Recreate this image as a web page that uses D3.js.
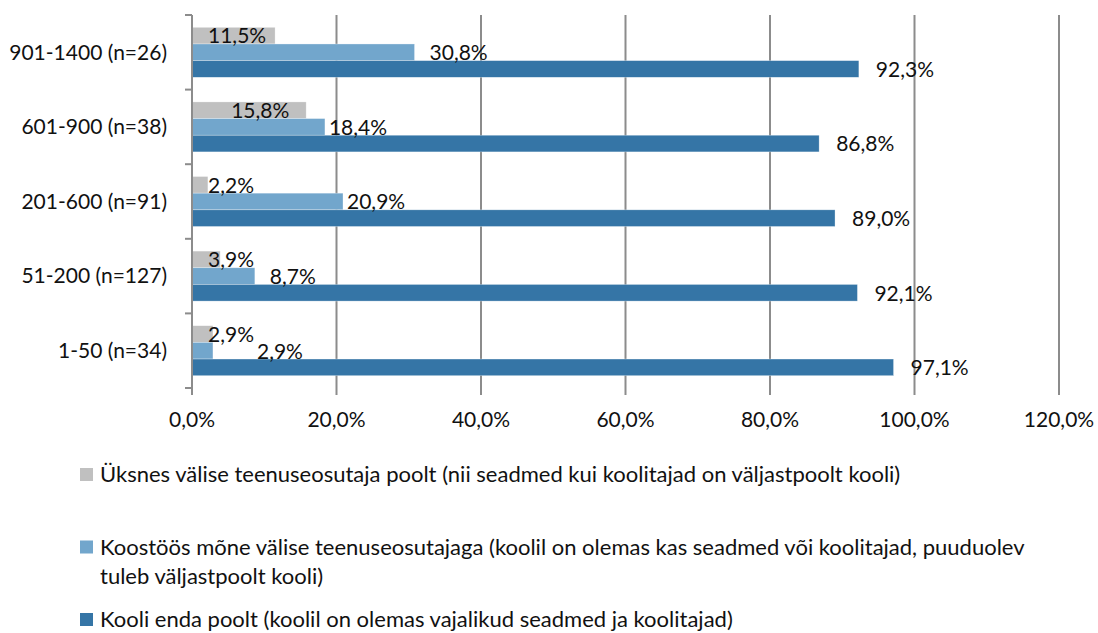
<!DOCTYPE html>
<html>
<head>
<meta charset="utf-8">
<script src="https://cdn.jsdelivr.net/npm/d3@7"></script>
<style>
  body { margin: 0; background: #fff; }
  svg text { font-family: Lato, "Noto Sans", sans-serif; fill: #111; }
</style>
</head>
<body>
<div id="chart"></div>
<script>
// categories, top to bottom
const categories = ['901-1400 (n=26)', '601-900 (n=38)', '201-600 (n=91)', '51-200 (n=127)', '1-50 (n=34)'];

// series values (%), same order as categories
const onlyExternal = [11.5, 15.8, 2.2, 3.9, 2.9];
const cooperation = [30.8, 18.4, 20.9, 8.7, 2.9];
const schoolItself = [92.3, 86.8, 89.0, 92.1, 97.1];

const seriesNames = [
  'Üksnes välise teenuseosutaja poolt (nii seadmed kui koolitajad on väljastpoolt kooli)',
  'Koostöös mõne välise teenuseosutajaga (koolil on olemas kas seadmed või koolitajad, puuduolev tuleb väljastpoolt kooli)',
  'Kooli enda poolt (koolil on olemas vajalikud seadmed ja koolitajad)'
];
const seriesColors = ['#c0c0c0', '#72a6cc', '#3575a6'];

const xTicks = [0, 20, 40, 60, 80, 100, 120];

const series = [onlyExternal, cooperation, schoolItself];

const width = 1098, height = 633;
const margin = { top: 15, left: 192, right: 39, bottom: 245 };
const plotW = width - margin.left - margin.right;
const plotH = height - margin.top - margin.bottom;

const fmt = v => v.toFixed(1).replace('.', ',') + '%';

const svg = d3.select('#chart').append('svg')
    .attr('width', width)
    .attr('height', height);

const x = d3.scaleLinear().domain([0, 120]).range([0, plotW]);
const y = d3.scaleBand().domain(categories).range([0, plotH]).paddingInner(0.33).paddingOuter(0.165);
const ySub = d3.scaleBand().domain([0, 1, 2]).range([0, y.bandwidth()]);

const g = svg.append('g')
    .attr('transform', `translate(${margin.left},${margin.top})`);

// vertical gridlines (also act as bottom ticks)
g.selectAll('.grid')
  .data(xTicks.slice(1))
  .join('line')
    .attr('class', 'grid')
    .attr('x1', d => x(d)).attr('x2', d => x(d))
    .attr('y1', 0).attr('y2', plotH + 7)
    .attr('stroke', '#8c8c8c')
    .attr('stroke-width', 2);

// bottom tick labels
g.selectAll('.xlab')
  .data(xTicks)
  .join('text')
    .attr('class', 'xlab')
    .attr('x', d => x(d))
    .attr('y', plotH + 39)
    .attr('text-anchor', 'middle')
    .style('font-size', '21px')
    .text(d => fmt(d));

// bars
const groups = g.selectAll('.cat')
  .data(categories)
  .join('g')
    .attr('class', 'cat')
    .attr('transform', d => `translate(0,${y(d)})`);

// label x rule per series
const labelX = [
  v => Math.max(16, x(v) - 75),
  v => x(v) + (v < 10 || v > 30 ? 15 : 4),
  v => x(v) + 17
];

series.forEach((vals, si) => {
  groups.append('rect')
      .attr('x', 0)
      .attr('y', ySub(si))
      .attr('width', (d, i) => x(vals[i]))
      .attr('height', ySub.bandwidth())
      .attr('fill', seriesColors[si])
      .attr('stroke', '#fff')
      .attr('stroke-opacity', 0.5)
      .attr('stroke-width', 0.6);
});

const labels = series.map((vals, si) =>
  groups.append('text')
      .attr('class', 'val s' + si)
      .attr('x', (d, i) => labelX[si](vals[i]))
      .attr('y', ySub(si) + ySub.bandwidth() - 0.5)
      .style('font-size', '21px')
      .text((d, i) => fmt(vals[i]))
);

// nudge a middle label right when it runs into the label above it
labels[1].each(function(d, i) {
  const above = labels[0].nodes()[i];
  const aboveEnd = +above.getAttribute('x') + above.getComputedTextLength();
  const cur = +this.getAttribute('x');
  if (cur < aboveEnd + 3) d3.select(this).attr('x', aboveEnd + 3);
});

// left axis
g.append('line')
    .attr('x1', 0).attr('x2', 0)
    .attr('y1', 0).attr('y2', plotH + 7)
    .attr('stroke', '#8c8c8c')
    .attr('stroke-width', 2);

const bounds = categories.map(c => y(c) - y.step() * y.paddingInner() / 2);
bounds.push(plotH);
g.selectAll('.ytick')
  .data(bounds)
  .join('line')
    .attr('class', 'ytick')
    .attr('x1', -7).attr('x2', 0)
    .attr('y1', d => d).attr('y2', d => d)
    .attr('stroke', '#8c8c8c')
    .attr('stroke-width', 2);

g.selectAll('.ylab')
  .data(categories)
  .join('text')
    .attr('class', 'ylab')
    .attr('x', -25)
    .attr('y', d => y(d) + y.bandwidth() / 2)
    .attr('dy', '0.35em')
    .attr('text-anchor', 'end')
    .style('font-size', '21px')
    .text(d => d);

// legend
const legend = svg.append('g').attr('transform', 'translate(80,482)');
const maxW = 950;
seriesNames.forEach((name, i) => {
  const item = legend.append('g').attr('transform', `translate(0,${i * 72.5})`);
  item.append('rect')
      .attr('x', 0).attr('y', -14)
      .attr('width', 13).attr('height', 13)
      .attr('fill', seriesColors[i]);
  const t = item.append('text')
      .attr('x', 20).attr('y', 0)
      .style('font-size', '22px');
  // simple word wrap
  const words = name.split(' ');
  let line = [];
  let tspan = t.append('tspan').attr('x', 20).attr('dy', 0);
  words.forEach(w => {
    line.push(w);
    tspan.text(line.join(' '));
    if (tspan.node().getComputedTextLength() > maxW && line.length > 1) {
      line.pop();
      tspan.text(line.join(' '));
      line = [w];
      tspan = t.append('tspan').attr('x', 20).attr('dy', 29).text(w);
    }
  });
});
</script>
</body>
</html>
